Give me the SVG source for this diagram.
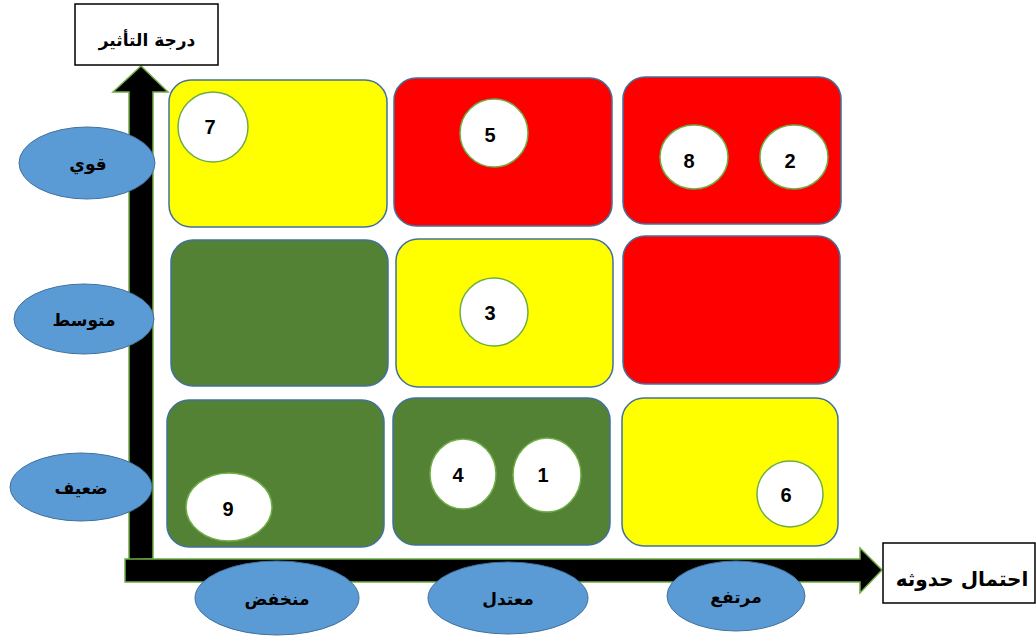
<svg xmlns="http://www.w3.org/2000/svg" width="1036" height="637" viewBox="0 0 1036 637">
<style>
.cell{stroke:#41719C;stroke-width:1.5}
.y{fill:#FFFF00}.r{fill:#FF0000}.g{fill:#548235}
.dot{fill:#FFFFFF;stroke:#70AD47;stroke-width:1.5}
.num{font-family:"Liberation Sans",Arial,sans-serif;font-weight:bold;font-size:20px;fill:#000;text-anchor:middle}
.lbl{fill:#5B9BD5;stroke:#41719C;stroke-width:1}
.ar{font-family:"DejaVu Sans",sans-serif;font-weight:bold;font-size:17px;fill:#000;text-anchor:middle}
.big{font-size:20px}
.box{fill:#FFFFFF;stroke:#000;stroke-width:1.5}
.axis{fill:#000;stroke:#70AD47;stroke-width:1.5}
</style>
<rect width="1036" height="637" fill="#FFFFFF"/>
<g id="connectors">
<path class="axis" d="M129,560 L129,92 L113,92 L141,66 L168,92 L153,92 L153,559 Z"/>
<path class="axis" d="M125,559 L860,559 L860,548 L882,570 L860,593 L860,582 L125,582 Z"/>
</g>
<g id="title-y"><rect class="box" x="75" y="4" width="143" height="61"/><text class="ar" x="147" y="46">درجة التأثير</text></g>
<g id="title-x"><rect class="box" x="883" y="543" width="152" height="60"/><text class="ar big" x="962" y="586">احتمال حدوثه</text></g>
<g id="cell-11"><rect class="cell y" x="169" y="80" width="218" height="147" rx="22"/><circle class="dot" cx="213" cy="127" r="35"/><text class="num" x="210" y="134">7</text></g>
<g id="cell-12"><rect class="cell r" x="394" y="78" width="218" height="148" rx="22"/><circle class="dot" cx="494" cy="133" r="34"/><text class="num" x="490" y="142">5</text></g>
<g id="cell-13"><rect class="cell r" x="623" y="77" width="218" height="147" rx="22"/><ellipse class="dot" cx="694" cy="157" rx="34" ry="32"/><text class="num" x="689" y="168">8</text><ellipse class="dot" cx="794" cy="157" rx="34" ry="32"/><text class="num" x="790" y="168">2</text></g>
<g id="cell-21"><rect class="cell g" x="171" y="240" width="217" height="146" rx="22"/></g>
<g id="cell-22"><rect class="cell y" x="396" y="239" width="217" height="148" rx="22"/><circle class="dot" cx="494" cy="312" r="34"/><text class="num" x="490" y="320">3</text></g>
<g id="cell-23"><rect class="cell r" x="623" y="236" width="217" height="148" rx="22"/></g>
<g id="cell-31"><rect class="cell g" x="167" y="400" width="217" height="147" rx="22"/><ellipse class="dot" cx="229" cy="507" rx="43" ry="34"/><text class="num" x="228" y="516">9</text></g>
<g id="cell-32"><rect class="cell g" x="393" y="398" width="217" height="147" rx="22"/><ellipse class="dot" cx="463" cy="474" rx="33" ry="35"/><text class="num" x="458" y="482">4</text><ellipse class="dot" cx="547" cy="475" rx="34" ry="37"/><text class="num" x="543" y="482">1</text></g>
<g id="cell-33"><rect class="cell y" x="622" y="398" width="216" height="148" rx="22"/><circle class="dot" cx="790" cy="494" r="33"/><text class="num" x="786" y="502">6</text></g>
<g id="y-strong"><ellipse class="lbl" cx="87" cy="163" rx="68" ry="36"/><text class="ar" x="88" y="170">قوي</text></g>
<g id="y-medium"><ellipse class="lbl" cx="84" cy="319" rx="70" ry="35"/><text class="ar" x="84" y="326">متوسط</text></g>
<g id="y-weak"><ellipse class="lbl" cx="81" cy="487" rx="71" ry="34"/><text class="ar" x="81" y="494">ضعيف</text></g>
<g id="x-low"><ellipse class="lbl" cx="277" cy="598" rx="82" ry="37"/><text class="ar" x="277" y="605">منخفض</text></g>
<g id="x-mid"><ellipse class="lbl" cx="508" cy="598" rx="80" ry="36"/><text class="ar" x="508" y="605">معتدل</text></g>
<g id="x-high"><ellipse class="lbl" cx="736" cy="596" rx="69" ry="35"/><text class="ar" x="736" y="603">مرتفع</text></g>
</svg>
